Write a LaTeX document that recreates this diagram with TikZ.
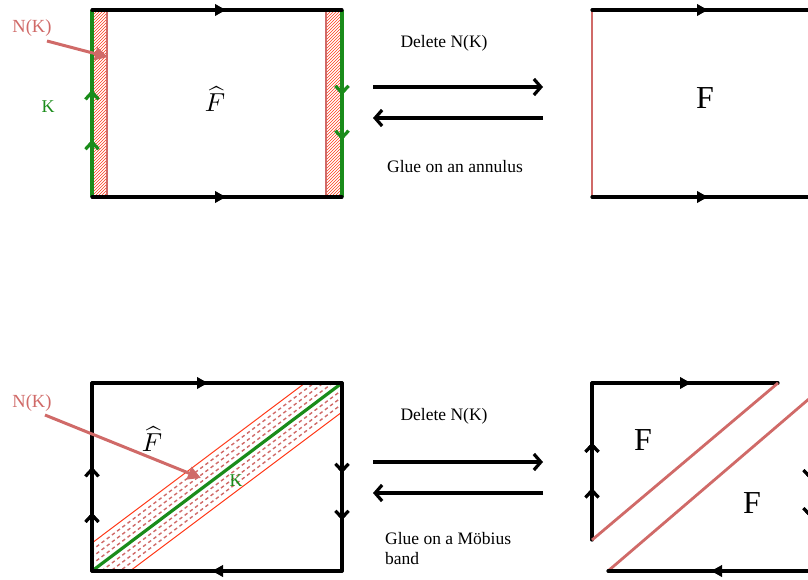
\documentclass[tikz,border=0pt]{standalone}
\usepackage{fontspec}
\setmainfont{Liberation Serif}
\usetikzlibrary{arrows.meta,decorations.markings,patterns}
\definecolor{salmon}{HTML}{D06A68}
\definecolor{kgreen}{HTML}{1A8C1A}
\definecolor{bandred}{HTML}{FF3A1A}
\tikzset{
  edge/.style={line width=3.2pt,line cap=round},
  kedge/.style={line width=3.2pt,draw=kgreen},
  redge/.style={line width=2.8pt,draw=salmon},
  thinred/.style={line width=1pt,draw=bandred},
  tri/.style={postaction={decorate},decoration={markings,mark=at position #1 with {\arrow{Latex[length=13pt,width=13pt]}}}},
  chev/.style={postaction={decorate},decoration={markings,mark=at position #1 with {\arrow[line width=3pt]{Straight Barb[length=7pt,width=13pt]}}}},
  bigarrow/.style={line width=3.2pt,-{Straight Barb[length=7pt,width=16pt,line width=3.2pt]}},
  lbl/.style={inner sep=0pt,font=\fontsize{17.5}{20}\selectfont},
  bigF/.style={inner sep=0pt,font=\fontsize{32}{36}\selectfont},
  hatF/.style={inner sep=0pt},
  nk/.style={inner sep=0pt,text=salmon,font=\fontsize{18.5}{22}\selectfont},
  kl/.style={inner sep=0pt,text=kgreen,font=\fontsize{18}{22}\selectfont},
  pointer/.style={line width=3pt,draw=salmon,-{Triangle[length=13pt,width=13pt]}},
}
\newcommand{\myhatF}{\scalebox{2.6}{$\widehat{F}$}}
\begin{document}
\begin{tikzpicture}[x=1pt,y=-1pt]
\useasboundingbox (0,0) rectangle (808,579);
\clip (0,0) rectangle (808,579);
% ---------- top left square ----------
\coordinate (a1) at (92,10); \coordinate (a2) at (342,10);
\coordinate (a3) at (342,197); \coordinate (a4) at (92,197);
\fill[pattern=north east lines,pattern color=bandred] (92,10) rectangle (107,197);
\fill[pattern=north east lines,pattern color=bandred] (326,10) rectangle (342,197);
\draw[redge] (107,10) -- (107,197);
\draw[redge] (326,10) -- (326,197);
\draw[kedge,chev=0.305,chev=0.572] (a4) -- (a1);
\draw[kedge,chev=0.455,chev=0.695] (a2) -- (a3);
\draw[edge,tri=0.544] (a1) -- (a2);
\draw[edge,tri=0.544] (a4) -- (a3);
\node[hatF] (fh1) at (215,99) {\myhatF};
\node[nk] (nk1) at (32,28) {N(K)};
\node[kl] (k1) at (48,107) {K};
\coordinate (p1) at (108,57);
\draw[pointer] (47,41) -- (p1);
% ---------- top middle ----------
\node[lbl] (del1) at (444,43) {Delete N(K)};
\node[lbl] (glue1) at (455,167) {Glue on an annulus};
\coordinate (m1) at (373,87); \coordinate (m2) at (543,87);
\coordinate (m3) at (543,118); \coordinate (m4) at (373,118);
\draw[bigarrow] (m1) -- (m2);
\draw[bigarrow] (m3) -- (m4);
% ---------- top right square ----------
\coordinate (b1) at (592,10); \coordinate (b2) at (842,10);
\coordinate (b3) at (842,197); \coordinate (b4) at (592,197);
\draw[redge] (b1) -- (b4);
\draw[edge,tri=0.472] (b1) -- (b2);
\draw[edge,tri=0.472] (b4) -- (b3);
\node[bigF] (f1) at (705,98) {F};
% ---------- bottom left square ----------
\coordinate (c1) at (92,383); \coordinate (c2) at (342,383);
\coordinate (c3) at (342,571); \coordinate (c4) at (92,571);
\begin{scope}
\clip (92,543) -- (305,383) -- (342,383) -- (342,412) -- (130,571) -- (92,571) -- cycle;
\foreach \d in {-21,-14,-7,7,14,21}
  \draw[salmon,line width=1.4pt,dash pattern=on 3.5pt off 3pt] (60,595.1+\d) -- (380,354.4+\d);
\end{scope}
\draw[thinred] (92,543) -- (305,383);
\draw[thinred] (130,571) -- (342,412);
\draw[line width=3.2pt,draw=kgreen] (c4) -- (c2);
\draw[edge,tri=0.472] (c1) -- (c2);
\draw[edge,tri=0.528] (c3) -- (c4);
\draw[edge,chev=0.31,chev=0.553] (c4) -- (c1);
\draw[edge,chev=0.479,chev=0.729] (c2) -- (c3);
\node[hatF] (fh2) at (152,439) {\myhatF};
\node[nk] (nk2) at (32,403) {N(K)};
\node[kl] (k2) at (236,481) {K};
\coordinate (p2) at (201,478);
\draw[pointer] (45,415) -- (p2);
% ---------- bottom middle ----------
\node[lbl] (del2) at (444,416) {Delete N(K)};
\node[lbl,align=left,anchor=north west] (glue2) at (385,532) {Glue on a Möbius\\band};
\coordinate (n1) at (373,462); \coordinate (n2) at (543,462);
\coordinate (n3) at (543,493); \coordinate (n4) at (373,493);
\draw[bigarrow] (n1) -- (n2);
\draw[bigarrow] (n3) -- (n4);
% ---------- bottom right pieces ----------
\coordinate (d1) at (592,540); \coordinate (d2) at (592,383);
\coordinate (d3) at (778,383);
\draw[edge,chev=0.33,chev=0.62] (d1) -- (d2);
\draw[edge,tri=0.543] (d2) -- (d3);
\draw[redge] (d1) -- (d3);
\coordinate (e1) at (608,571); \coordinate (e2) at (810,398);
\coordinate (e3) at (810,571);
\draw[redge] (e1) -- (e2);
\draw[edge,chev=0.47,chev=0.69] (e2) -- (e3);
\draw[edge,tri=0.5] (e3) -- (e1);
\node[bigF] (f2) at (643,440) {F};
\node[bigF] (f3) at (752,503) {F};
\end{tikzpicture}
\end{document}
